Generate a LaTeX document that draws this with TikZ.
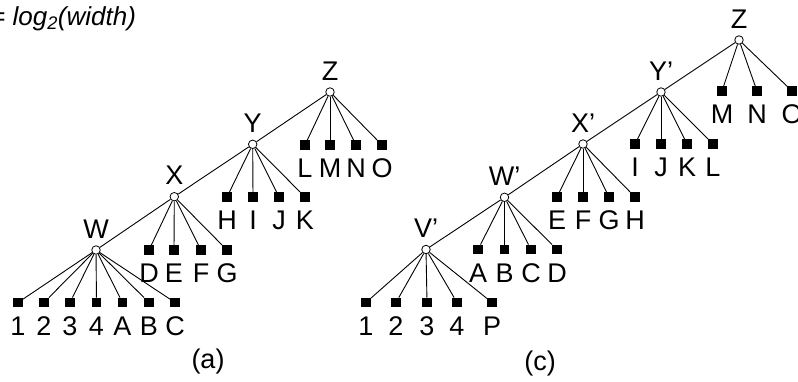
\documentclass[tikz,border=0pt]{standalone}
\usepackage{fontspec}
\setmainfont{Liberation Sans}
\begin{document}
\begin{tikzpicture}[x=1pt,y=-1pt,
  inner/.style={circle,draw,fill=white,inner sep=0pt,minimum size=8.5pt,line width=0.8pt},
  leaf/.style={rectangle,fill=black,inner sep=0pt,minimum size=9.5pt},
  lbl/.style={font=\fontsize{27}{27}\selectfont,inner sep=0pt,anchor=base},
  edge/.style={line width=0.9pt}]
\useasboundingbox (0,0) rectangle (798,381);

% formula in the upper left corner
\node[lbl,anchor=base west,font=\fontsize{26}{26}\selectfont] (formula) at (-10,25) {\itshape = log\textsubscript{2}(width)};

% ---------- tree (a) ----------
\node[inner] (aZ) at (330,92) {};
\node[inner] (aY) at (252.7,144.3) {};
\node[inner] (aX) at (174.3,196.7) {};
\node[inner] (aW) at (96,250) {};
\node[lbl] (aZt) at (330,80) {Z};
\node[lbl] (aYt) at (252.7,132.3) {Y};
\node[lbl] (aXt) at (174.3,184.7) {X};
\node[lbl] (aWt) at (96,238) {W};
\draw[edge] (aW) -- (aX) -- (aY) -- (aZ);

\foreach \x/\t [count=\i] in {305/L,330/M,356/N,382/O} {
  \node[leaf] (aZl\i) at (\x,145) {};
  \node[lbl] (aZlt\i) at (\x,177.5) {\t};
  \draw[edge] (aZ) -- (aZl\i);
}
\foreach \x/\t [count=\i] in {227/H,253/I,279/J,305/K} {
  \node[leaf] (aYl\i) at (\x,197) {};
  \node[lbl] (aYlt\i) at (\x,229.5) {\t};
  \draw[edge] (aY) -- (aYl\i);
}
\foreach \x/\t [count=\i] in {149/D,174/E,201/F,227/G} {
  \node[leaf] (aXl\i) at (\x,250) {};
  \node[lbl] (aXlt\i) at (\x,282.5) {\t};
  \draw[edge] (aX) -- (aXl\i);
}
\foreach \x/\t [count=\i] in {18/1,44/2,70/3,96.5/4,122.5/A,149/B,175/C} {
  \node[leaf] (aWl\i) at (\x,302.5) {};
  \node[lbl] (aWlt\i) at (\x,335) {\t};
  \draw[edge] (aW) -- (aWl\i);
}
\node[lbl] (capa) at (208,368) {(a)};

% ---------- tree (c) ----------
\node[inner] (cZ) at (739,40) {};
\node[inner] (cY) at (661,92) {};
\node[inner] (cX) at (583,144) {};
\node[inner] (cW) at (504.5,197.3) {};
\node[inner] (cV) at (426,249.5) {};
\node[lbl] (cZt) at (739,28) {Z};
\node[lbl] (cYt) at (661,80) {Y’};
\node[lbl] (cXt) at (583,132) {X’};
\node[lbl] (cWt) at (504.5,185.3) {W’};
\node[lbl] (cVt) at (426,237.5) {V’};
\draw[edge] (cV) -- (cW) -- (cX) -- (cY) -- (cZ);

\foreach \x/\t [count=\i] in {722/M,757/N,792/O} {
  \node[leaf] (cZl\i) at (\x,91) {};
  \node[lbl] (cZlt\i) at (\x,123.5) {\t};
  \draw[edge] (cZ) -- (cZl\i);
}
\foreach \x/\t [count=\i] in {635/I,661/J,687/K,713/L} {
  \node[leaf] (cYl\i) at (\x,144) {};
  \node[lbl] (cYlt\i) at (\x,176.5) {\t};
  \draw[edge] (cY) -- (cYl\i);
}
\foreach \x/\t [count=\i] in {557/E,583/F,609/G,635/H} {
  \node[leaf] (cXl\i) at (\x,197) {};
  \node[lbl] (cXlt\i) at (\x,229.5) {\t};
  \draw[edge] (cX) -- (cXl\i);
}
\foreach \x/\t [count=\i] in {478/A,504.5/B,531/C,557/D} {
  \node[leaf] (cWl\i) at (\x,249.5) {};
  \node[lbl] (cWlt\i) at (\x,282) {\t};
  \draw[edge] (cW) -- (cWl\i);
}
\foreach \x/\t [count=\i] in {366/1,396/2,427/3,457/4,492/P} {
  \node[leaf] (cVl\i) at (\x,302.5) {};
  \node[lbl] (cVlt\i) at (\x,335) {\t};
  \draw[edge] (cV) -- (cVl\i);
}
\node[lbl] (capc) at (540,370) {(c)};
\end{tikzpicture}
\end{document}
